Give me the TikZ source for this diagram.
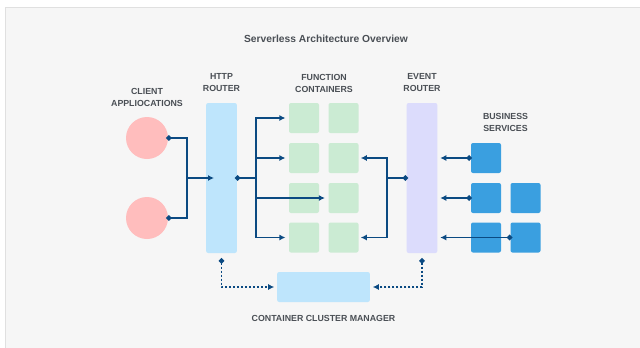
\documentclass[tikz,border=0pt]{standalone}
\usepackage{fontspec}
\setmainfont{Liberation Sans}
\usetikzlibrary{arrows.meta,calc}

\definecolor{linkblue}{HTML}{0B4A82}
\definecolor{labelgray}{HTML}{4A4F55}
\definecolor{clientpink}{HTML}{FFBDBD}
\definecolor{routerblue}{HTML}{BEE5FC}
\definecolor{fngreen}{HTML}{CBEBD3}
\definecolor{eventlav}{HTML}{DCDCFC}
\definecolor{svcblue}{HTML}{3A9FE0}
\definecolor{panelgray}{HTML}{F6F6F6}

\begin{document}
\begin{tikzpicture}[x=0.75pt, y=-0.75pt,
  panel/.style={fill=panelgray, draw=black!12, line width=0.6pt},
  title/.style={font=\fontsize{7.7}{9}\selectfont\bfseries, text=labelgray},
  caption/.style={font=\fontsize{6.6}{9}\selectfont\bfseries, text=labelgray, align=center},
  client/.style={circle, fill=clientpink, minimum size=31.5pt, inner sep=0pt},
  router/.style={rounded corners=1.5pt, minimum width=23pt, minimum height=112.5pt, inner sep=0pt},
  fnbox/.style={rounded corners=1.5pt, fill=fngreen, minimum size=22.5pt, inner sep=0pt},
  svcbox/.style={rounded corners=1.5pt, fill=svcblue, minimum size=22.5pt, inner sep=0pt},
  link/.style={draw=linkblue, line width=1.4pt},
  tip/.style={-{Latex[length=4.5pt,width=4.5pt]}},
  dottip/.style={{Circle[length=4pt]}-{Latex[length=4.5pt,width=4.5pt]}},
  dotonly/.style={{Circle[length=4pt]}-},
  mgmt/.style={draw=linkblue, line width=1.2pt, dash pattern=on 1.6pt off 1.4pt,
    {Circle[length=4pt]}-{Latex[length=4.5pt,width=4.5pt]}}]

  % ── Canvas ───────────────────────────────────────────────────────────
  \clip (0,0) rectangle (640,347);
  \fill[white] (0,0) rectangle (640,347);
  \draw[panel] (5,7) rectangle (650,360);

  \node[title] (ttl) at (326,39) {Serverless Architecture Overview};

  % ── Clients and HTTP router ──────────────────────────────────────────
  \node[client] (cl1) at (147,138) {};
  \node[client] (cl2) at (147,218) {};
  \node[caption] (cllbl) at (147,97.5) {CLIENT\\APPLIOCATIONS};

  \node[router, fill=routerblue] (http) at (221.5,178) {};
  \node[caption] (httplbl) at (221.5,83) {HTTP\\ROUTER};

  % ── Function containers (2 x 4) ──────────────────────────────────────
  \foreach \r/\y in {1/118, 2/158, 3/198, 4/237.5} {
    \node[fnbox] (f\r1) at (304,\y) {};
    \node[fnbox] (f\r2) at (343.5,\y) {};
  }
  \node[caption] (fnlbl) at (324,83) {FUNCTION\\CONTAINERS};

  % ── Event router ─────────────────────────────────────────────────────
  \node[router, fill=eventlav] (evt) at (422,178) {};
  \node[caption] (evtlbl) at (422,83) {EVENT\\ROUTER};

  % ── Business services ───────────────────────────────────────────────
  \node[svcbox] (b1) at (486,158) {};
  \node[svcbox] (b21) at (486,198) {};
  \node[svcbox] (b22) at (525.5,198) {};
  \node[svcbox] (b31) at (486,237.5) {};
  \node[svcbox] (b32) at (525.5,237.5) {};
  \node[caption] (bslbl) at (505.5,122.5) {BUSINESS\\SERVICES};

  % ── Container cluster manager ───────────────────────────────────────
  \node[fill=routerblue, rounded corners=1.5pt, minimum width=69.5pt,
        minimum height=22.5pt, inner sep=0pt] (ccm) at (323.5,287) {};
  \node[caption] (ccmlbl) at (323.5,318) {CONTAINER CLUSTER MANAGER};

  % ── Junction points ─────────────────────────────────────────────────
  \coordinate (cl1p) at ([xshift=-1.5pt]cl1.east);
  \coordinate (cl2p) at ([xshift=-1.5pt]cl2.east);
  \coordinate (cjn) at (187,178);
  \coordinate (hin) at (214,178);
  \coordinate (hout) at (235,178);
  \coordinate (hjn) at (256,178);
  \coordinate (eout) at (408,178);
  \coordinate (ejn) at (387,178);
  \coordinate (hbot) at ([yshift=-3.7pt]http.south);
  \coordinate (ebot) at ([yshift=-3.7pt]evt.south);

  % clients -> HTTP router
  \draw[link, dotonly] (cl1p) -| (cjn);
  \draw[link, dotonly] (cl2p) -| (cjn);
  \draw[link, tip] (cjn) -- (hin);

  % HTTP router -> function containers
  \draw[link, dotonly] (hout) -- (hjn);
  \draw[link] (hjn |- f11) -- (hjn |- f41);
  \draw[link, tip, shorten >=2.5pt] (hjn) |- (f11.west);
  \draw[link, tip, shorten >=2.5pt] (hjn) |- (f21.west);
  \draw[link, tip, shorten >=2.5pt] (hjn) |- (f32.west);
  \draw[link, tip, shorten >=2.5pt] (hjn) |- (f41.west);

  % event router -> function containers
  \draw[link, dotonly] (eout) -- (ejn);
  \draw[link, tip, shorten >=1.5pt] (ejn) |- (f22.east);
  \draw[link, tip, shorten >=1.5pt] (ejn) |- (f42.east);

  % business services -> event router
  \draw[link, dottip, shorten >=2pt] ([xshift=0.8pt]b1.west) -- (evt.east |- b1);
  \draw[link, dottip, shorten >=2pt] ([xshift=0.8pt]b21.west) -- (evt.east |- b21);
  \draw[link, dottip, shorten >=2pt] ([xshift=1.5pt]b32.west) -- (evt.east |- b32);

  % routers <-> cluster manager
  \draw[mgmt, shorten >=2pt] (hbot) |- (ccm.west);
  \draw[mgmt, shorten >=2pt] (ebot) |- (ccm.east);

\end{tikzpicture}
\end{document}
